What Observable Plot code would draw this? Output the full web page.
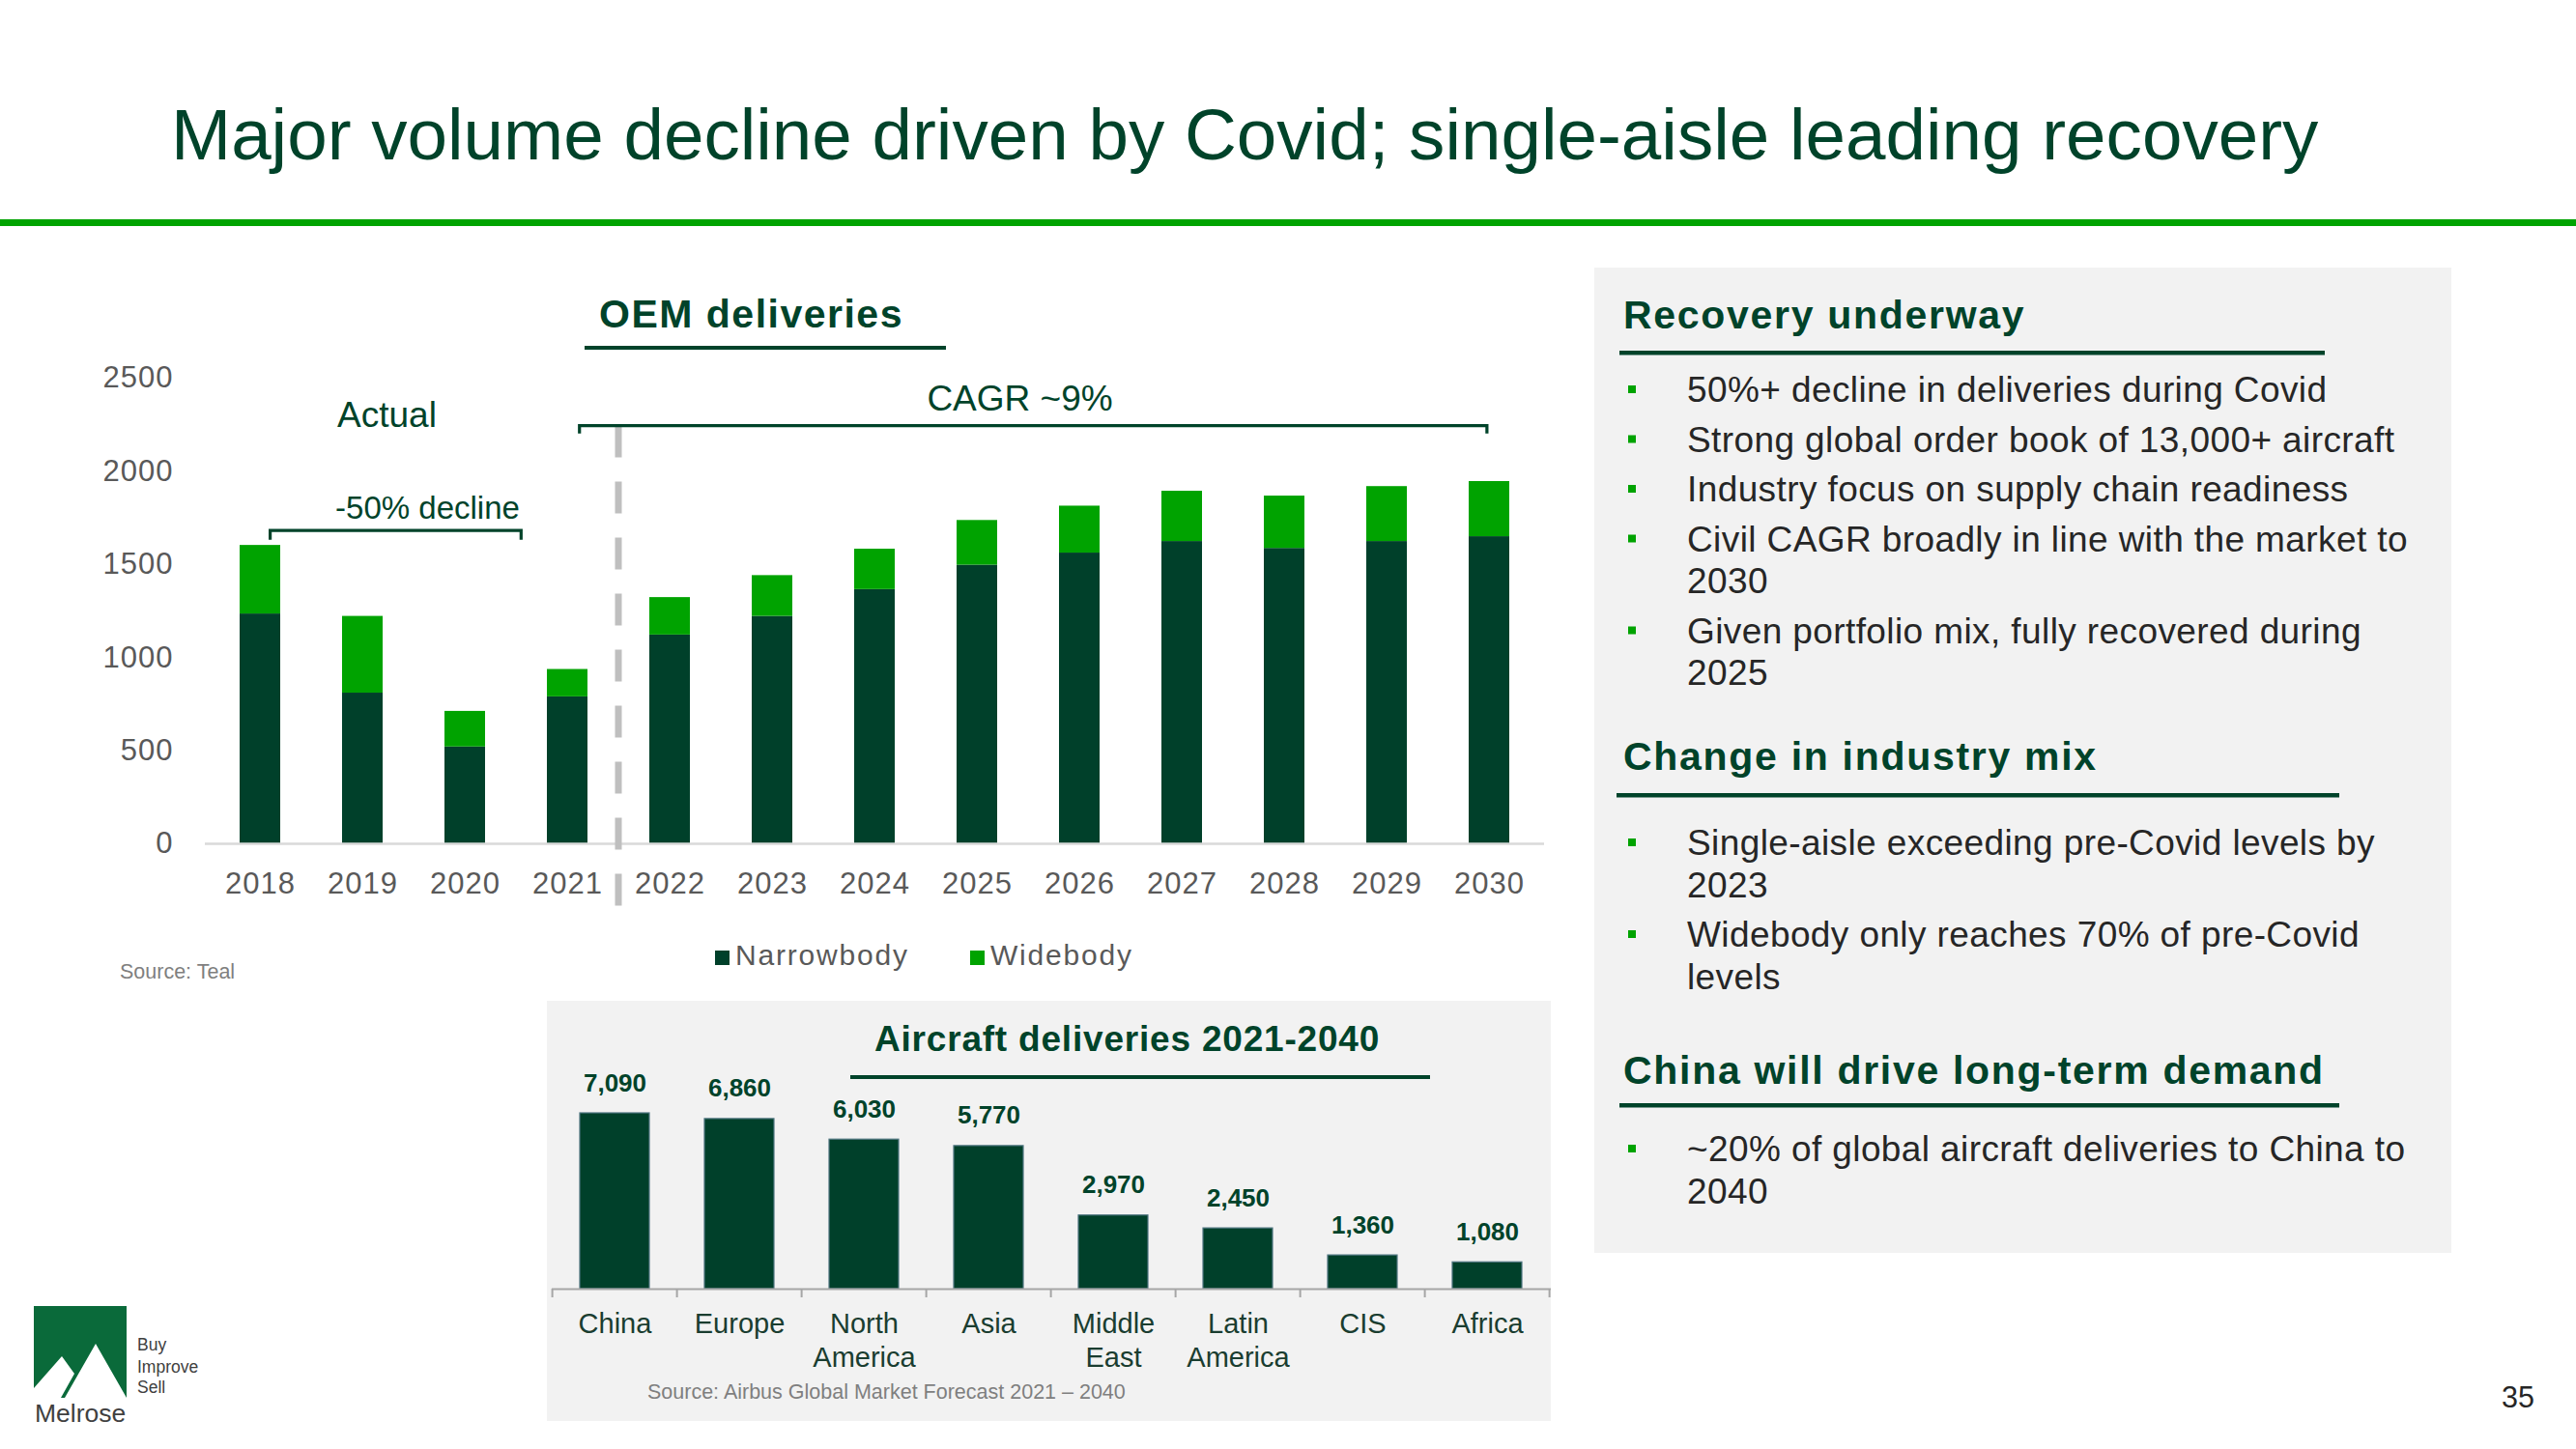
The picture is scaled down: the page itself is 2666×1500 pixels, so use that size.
<!DOCTYPE html>
<html>
<head>
<meta charset="utf-8">
<script src="https://cdn.jsdelivr.net/npm/d3@7"></script>
<script src="https://cdn.jsdelivr.net/npm/@observablehq/plot@0.6"></script>
<style>
  html, body { margin: 0; padding: 0; background: #ffffff; }
  body { width: 2666px; height: 1500px; position: relative; overflow: hidden;
         font-family: "Liberation Sans", Arial, Helvetica, sans-serif; }
  #bg { position: absolute; left: 0; top: 0; }
  .chart { position: absolute; }
  #top [aria-label="x-axis tick label"], #top [aria-label="y-axis tick label"] { letter-spacing: 1px; }
</style>
</head>
<body>
<svg id="bg" width="2666" height="1500"></svg>
<div id="top" class="chart" style="left:100px;top:370px;width:1520px;height:600px"></div>
<div id="bottom" class="chart" style="left:566px;top:1120px;width:1040px;height:310px"></div>
<script>
// ---------------- DATA ----------------
const years = ["2018","2019","2020","2021","2022","2023","2024","2025","2026","2027","2028","2029","2030"];
const narrowbody = [1234, 809, 520, 789, 1121, 1221, 1365, 1496, 1561, 1623, 1586, 1623, 1649];
const widebody   = [368, 412, 191, 147, 201, 219, 217, 240, 252, 270, 281, 295, 296];
const seriesNames = ["Narrowbody", "Widebody"];
const seriesColors = ["#00402a", "#00a300"];
const yTicks = [0, 500, 1000, 1500, 2000, 2500];

const regions = ["China", "Europe", "North America", "Asia", "Middle East", "Latin America", "CIS", "Africa"];
const regionLabels = ["China", "Europe", "North\nAmerica", "Asia", "Middle\nEast", "Latin\nAmerica", "CIS", "Africa"];
const deliveries = [7090, 6860, 6030, 5770, 2970, 2450, 1360, 1080];

const titleText = "Major volume decline driven by Covid; single-aisle leading recovery";
const topChartTitle = "OEM deliveries";
const bottomChartTitle = "Aircraft deliveries 2021-2040";
const topSource = "Source: Teal";
const bottomSource = "Source: Airbus Global Market Forecast 2021 \u2013 2040";
const noteActual = "Actual";
const noteDecline = "-50% decline";
const noteCagr = "CAGR ~9%";

const headings = ["Recovery underway", "Change in industry mix", "China will drive long-term demand"];
const recoveryBullets = [
  ["50%+ decline in deliveries during Covid"],
  ["Strong global order book of 13,000+ aircraft"],
  ["Industry focus on supply chain readiness"],
  ["Civil CAGR broadly in line with the market to", "2030"],
  ["Given portfolio mix, fully recovered during", "2025"]
];
const mixBullets = [
  ["Single-aisle exceeding pre-Covid levels by", "2023"],
  ["Widebody only reaches 70% of pre-Covid", "levels"]
];
const chinaBullets = [
  ["~20% of global aircraft deliveries to China to", "2040"]
];
const pageNumber = "35";

// ---------------- STYLE ----------------
const FONT = '"Liberation Sans", Arial, Helvetica, sans-serif';
const DARK = "#00432a";
const BRIGHT = "#00a300";
const TEXT = "#262626";

// ---------------- SLIDE BACKGROUND ----------------
const bg = d3.select("#bg");
function rect(x, y, w, h, fill) {
  return bg.append("rect").attr("x", x).attr("y", y).attr("width", w).attr("height", h).attr("fill", fill);
}
function text(x, y, s, o = {}) {
  return bg.append("text").attr("x", x).attr("y", y).text(s)
    .attr("font-family", FONT).attr("font-size", o.size || 20)
    .attr("font-weight", o.weight || "normal").attr("fill", o.fill || TEXT)
    .attr("letter-spacing", o.ls || 0).attr("text-anchor", o.anchor || "start");
}

// title + rule
text(177, 165, titleText, {size: 74.6, fill: DARK});
rect(0, 227, 2666, 7, BRIGHT);

// top chart heading
text(620, 339, topChartTitle, {size: 41, weight: "bold", fill: DARK, ls: 1.5});
rect(605, 358, 374, 4, DARK);
text(124, 1013, topSource, {size: 21.5, fill: "#7f7f7f"});

// legend (from series arrays)
const legendX = [740, 1004];
seriesNames.forEach((name, i) => {
  rect(legendX[i], 984, 15, 15, seriesColors[i]);
  text(legendX[i] + 21, 999, name, {size: 30, fill: "#595959", ls: 1.8});
});

// bottom panel
rect(566, 1036, 1039, 435, "#f2f2f2");
text(905, 1088, bottomChartTitle, {size: 37, weight: "bold", fill: DARK, ls: 0.8});
rect(880, 1113, 600, 4, DARK);
text(670, 1448, bottomSource, {size: 21.5, fill: "#7f7f7f"});

// right panel
rect(1650, 277, 887, 1020, "#f2f2f2");
const sections = [
  {heading: headings[0], hy: 340, rule: [1676, 363, 730], by: 416, bullets: recoveryBullets},
  {heading: headings[1], hy: 797, rule: [1673, 821, 748], by: 885, bullets: mixBullets},
  {heading: headings[2], hy: 1122, rule: [1676, 1142, 745], by: 1202, bullets: chinaBullets}
];
sections.forEach(sec => {
  text(1680, sec.hy, sec.heading, {size: 41, weight: "bold", fill: DARK, ls: 1.7});
  rect(sec.rule[0], sec.rule[1], sec.rule[2], 4.5, DARK);
  let y = sec.by;
  sec.bullets.forEach(lines => {
    rect(1685, y - 17, 8, 8, BRIGHT);
    lines.forEach((ln, j) => {
      text(1746, y, ln, {size: 37, fill: TEXT, ls: 0.4});
      y += (j < lines.length - 1) ? 43.5 : 51.5;
    });
  });
});

// logo
rect(35, 1352, 96, 95, "#0a6a3a");
bg.append("path").attr("fill", "#ffffff")
  .attr("d", "M35,1447 L35,1437 L64,1404 L77,1422 L63,1447 Z M67,1447 L99,1391 L131,1447 Z");
text(36, 1472, "Melrose", {size: 26.5, fill: "#404040"});
text(142, 1398, "Buy", {size: 17.5, fill: "#404040"});
text(142, 1421, "Improve", {size: 17.5, fill: "#404040"});
text(142, 1442, "Sell", {size: 17.5, fill: "#404040"});

// page number
text(2589, 1457, pageNumber, {size: 30.5, fill: TEXT});

// ---------------- TOP CHART ----------------
const longData = years.flatMap((yr, i) => [
  {year: yr, series: seriesNames[0], value: narrowbody[i]},
  {year: yr, series: seriesNames[1], value: widebody[i]}
]);

const noteStyle = {fill: DARK, lineAnchor: "bottom", textAnchor: "middle", fontFamily: FONT};
const topChart = Plot.plot({
  width: 1520, height: 600,
  marginLeft: 112, marginRight: 22, marginTop: 21, marginBottom: 97,
  style: {background: "transparent", fontFamily: FONT, fontSize: "31px", color: "#595959", maxWidth: "none", overflow: "visible"},
  x: {domain: years, paddingInner: 0.6, paddingOuter: 0.3, label: null, tickSize: 0, tickPadding: 29},
  y: {domain: [0, 2500], ticks: yTicks, tickFormat: d => String(d), label: null, tickSize: 0, tickPadding: 33},
  color: {domain: seriesNames, range: seriesColors},
  marks: [
    Plot.barY(longData, {x: "year", y: "value", fill: "series"}),
    Plot.ruleY([0], {stroke: "#d9d9d9", strokeWidth: 2.5}),
    Plot.text([noteActual], {...noteStyle, x: () => "2019", y: () => 2240, text: d => d, dx: 25, fontSize: 37}),
    Plot.text([noteDecline], {...noteStyle, x: () => "2020", y: () => 1745, text: d => d, dx: -39, fontSize: 33}),
    Plot.text([noteCagr], {...noteStyle, x: () => "2025", y: () => 2328, text: d => d, dx: 44, fontSize: 37})
  ]
});
document.getElementById("top").appendChild(topChart);

// brackets and forecast divider, positioned with the chart's own scales
{
  const xs = topChart.scale("x"), ys = topChart.scale("y");
  const step = xs.step ?? (xs.apply(years[1]) - xs.apply(years[0]));
  const bw = xs.bandwidth ?? step * 0.4;
  const cx = k => xs.apply(k) + bw / 2;
  const svg = d3.select(topChart);
  const g = svg.append("g").attr("fill", "none");
  const divX = (cx("2021") + cx("2022")) / 2;
  g.append("line")
    .attr("x1", divX).attr("x2", divX)
    .attr("y1", ys.apply(2243)).attr("y2", ys.apply(-347))
    .attr("stroke", "#bfbfbf").attr("stroke-width", 7).attr("stroke-dasharray", "33,25");
  const bracket = (x1, x2, yTop, yEnd) =>
    g.append("path").attr("stroke", DARK).attr("stroke-width", 3.2)
      .attr("d", `M${x1},${yEnd}L${x1},${yTop}L${x2},${yTop}L${x2},${yEnd}`);
  bracket(cx("2021") + 0.12 * step, cx("2030") - 0.02 * step, ys.apply(2243), ys.apply(2200));
  bracket(cx("2018") + 0.1 * step, cx("2020") + 0.55 * step, ys.apply(1680), ys.apply(1630));
}

// ---------------- BOTTOM CHART ----------------
const regionData = regions.map((r, i) => ({region: r, label: regionLabels[i], value: deliveries[i]}));
const bottomChart = Plot.plot({
  width: 1040, height: 310,
  marginLeft: 5, marginRight: 1, marginTop: 32, marginBottom: 96,
  style: {background: "transparent", fontFamily: FONT, maxWidth: "none", overflow: "visible"},
  x: {domain: regions, paddingInner: 0.44, paddingOuter: 0.22, axis: null},
  y: {domain: [0, 7090], axis: null},
  marks: [
    Plot.barY(regionData, {x: "region", y: "value", fill: "#00402a", stroke: "#4f7580", strokeWidth: 1.2}),
    Plot.ruleY([0], {stroke: "#a6a6a6", strokeWidth: 2}),
    Plot.text(regionData, {x: "region", y: "value", text: d => d3.format(",")(d.value),
      lineAnchor: "bottom", dy: -23, fontSize: 26, fontWeight: "bold", fill: DARK, fontFamily: FONT}),
    Plot.text(regionData, {x: "region", text: "label", frameAnchor: "bottom", lineAnchor: "top",
      dy: 21, fontSize: 29, lineHeight: 1.2, fill: "#1a3d30", fontFamily: FONT})
  ]
});
document.getElementById("bottom").appendChild(bottomChart);
{
  const xs = bottomChart.scale("x"), ys = bottomChart.scale("y");
  const step = xs.step ?? (xs.apply(regions[1]) - xs.apply(regions[0]));
  const pin = 0.44;
  const bounds = regions.map(r => xs.apply(r) - step * pin / 2);
  bounds.push(bounds[bounds.length - 1] + step);
  const y0 = ys.apply(0);
  d3.select(bottomChart).append("g").selectAll("line").data(bounds).join("line")
    .attr("x1", d => d).attr("x2", d => d).attr("y1", y0).attr("y2", y0 + 9)
    .attr("stroke", "#a6a6a6").attr("stroke-width", 2);
}
</script>
</body>
</html>
